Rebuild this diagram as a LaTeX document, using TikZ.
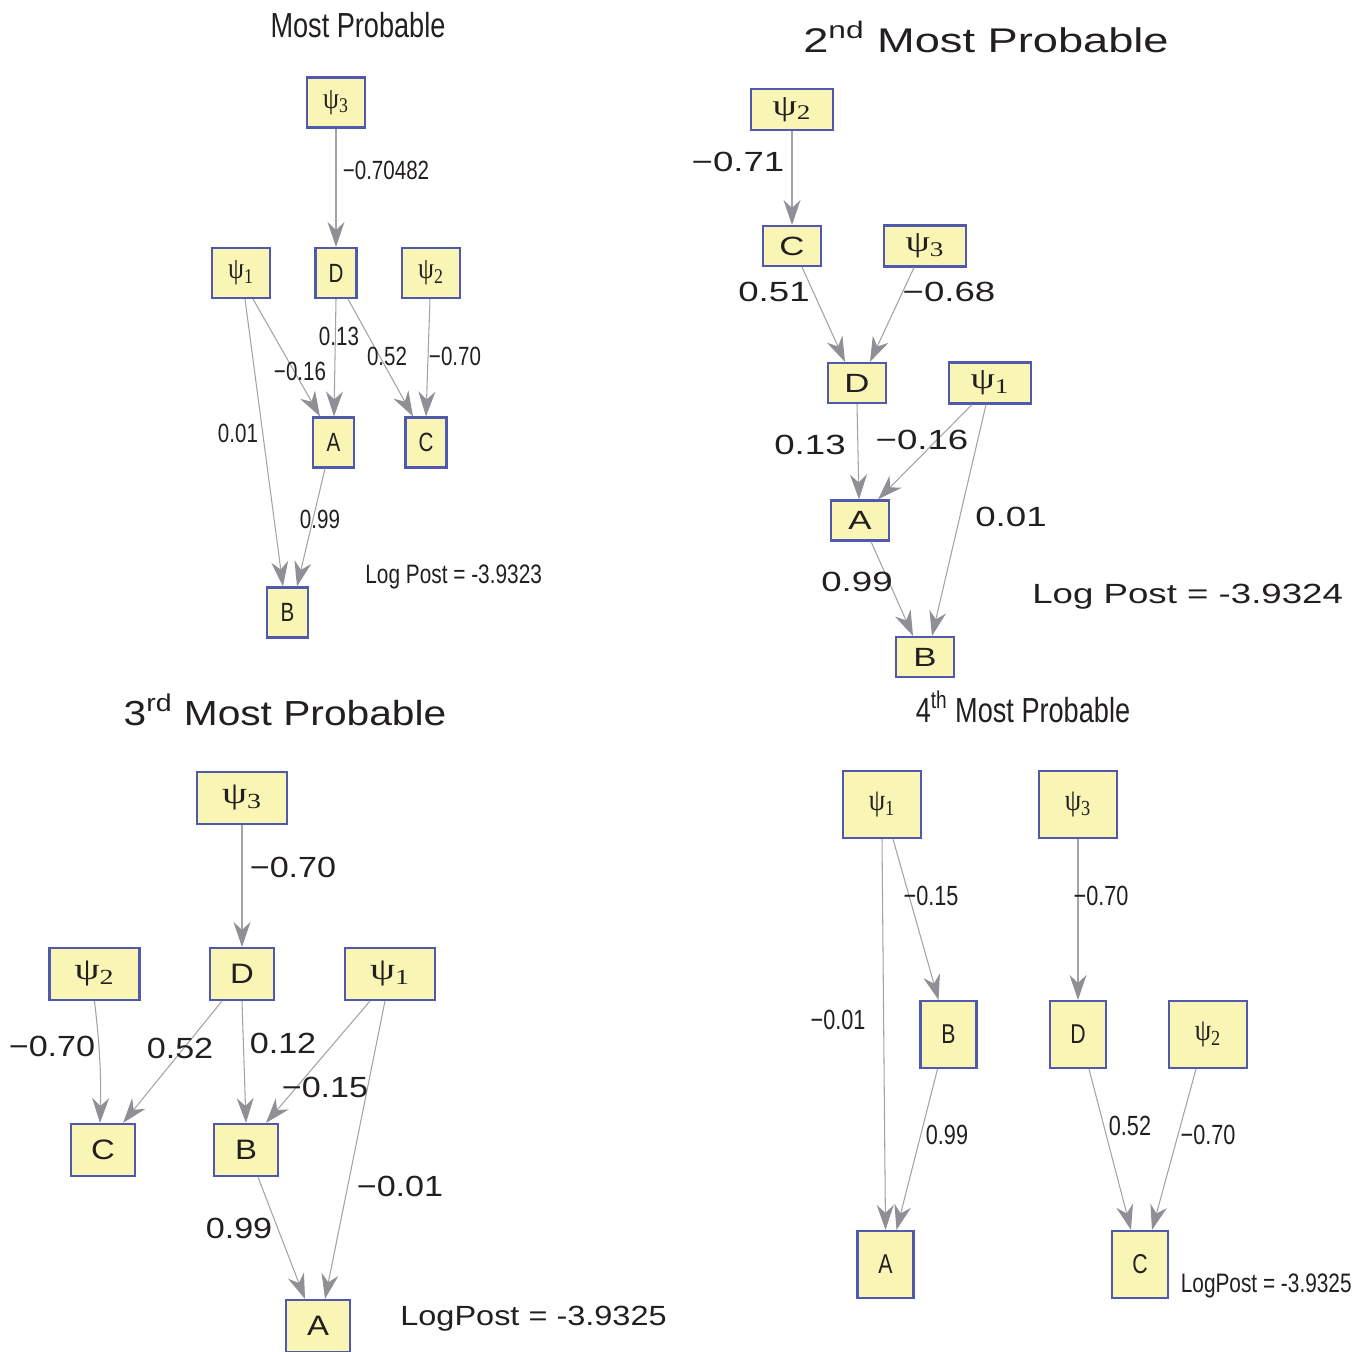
\documentclass[tikz,border=0pt]{standalone}
\usepackage{fontspec}
\setmainfont{Liberation Sans}
\usetikzlibrary{arrows.meta,calc}
\newfontfamily\narrowfont[FakeStretch=0.78]{Liberation Sans}
\newfontfamily\widefont[FakeStretch=1.32]{Liberation Sans}
\newfontfamily\wideishfont[FakeStretch=1.17]{Liberation Sans}
\newfontfamily\psinarrow[FakeStretch=0.85]{Liberation Serif}
\newfontfamily\psiwide[FakeStretch=1.3]{Liberation Serif}
\definecolor{boxfill}{HTML}{F8F5B5}
\definecolor{boxline}{HTML}{5059AE}
\definecolor{edgeline}{HTML}{A3A3A6}
\definecolor{edgehead}{HTML}{8F9095}
\definecolor{ink}{HTML}{231F20}
\newcommand{\fsz}[1]{\fontsize{#1}{#1}\selectfont}
\newcommand{\psiv}[1]{ψ\textsubscript{#1}}

\tikzset{
  box/.style 2 args={draw=boxline,fill=boxfill,line width=1.2pt,minimum width=#1,
        minimum height=#2,inner sep=0pt,text=ink},
  edge/.style={draw=edgeline,line width=0.6pt,
        -{Stealth[length=0.5cm,width=0.34cm,inset=0.16cm,color=edgehead]}},
  lbl/.style={text=ink,inner sep=0pt},
}

\begin{document}
\begin{tikzpicture}[x=0.02cm,y=-0.02cm]
\useasboundingbox (0,0) rectangle (1356,1352);

% most probable
\begin{scope}[psi/.style={box={1.16cm}{1.0cm},font=\psinarrow\fsz{17}},
              var/.style={box={0.82cm}{1.0cm},font=\narrowfont\fsz{15}},
              wt/.style={lbl,font=\narrowfont\fsz{15}}]
\node[lbl,font=\narrowfont\fsz{19.8},anchor=base] (p1title) at (358,37) {Most Probable};
\node[psi] (p1psi3) at (336,102.5) {\psiv{3}};
\node[var] (p1D) at (336,273) {D};
\node[psi] (p1psi1) at (241,273) {\psiv{1}};
\node[psi] (p1psi2) at (431,273) {\psiv{2}};
\node[var] (p1A) at (333.5,442.5) {A};
\node[var] (p1C) at (426,442.5) {C};
\node[var] (p1B) at (287.5,612.5) {B};
\draw[edge] (p1psi3.south) -- (p1D.north);
\draw[edge] ($(p1psi1.south)+(4,0)$) -- ($(p1B.north)+(-4.5,0)$);
\draw[edge] ($(p1psi1.south)+(12,0)$) -- ($(p1A.north)+(-13.5,0)$);
\draw[edge] ($(p1D.south)$) -- ($(p1A.north)+(0.5,0)$);
\draw[edge] ($(p1D.south)+(12,0)$) -- ($(p1C.north)+(-13,0)$);
\draw[edge] ($(p1psi2.south)+(-1,0)$) -- (p1C.north);
\draw[edge] ($(p1A.south)+(-8.5,0)$) -- ($(p1B.north)+(9.5,0)$);
\node[wt] (p1w1) at (386,170) {−0.70482};
\node[wt] (p1w2) at (339,336) {0.13};
\node[wt] (p1w3) at (300,371) {−0.16};
\node[wt] (p1w4) at (387,356) {0.52};
\node[wt] (p1w5) at (455,356) {−0.70};
\node[wt] (p1w6) at (238,433) {0.01};
\node[wt] (p1w7) at (320,519) {0.99};
\node[lbl,font=\narrowfont\fsz{15.2},anchor=base west] (p1post) at (365,583) {Log Post = -3.9323};
\end{scope}

% 2nd most probable
\begin{scope}[psi/.style={box={1.64cm}{0.82cm},font=\psiwide\fsz{17}},
              var/.style={box={1.16cm}{0.8cm},font=\widefont\fsz{15}},
              wt/.style={lbl,font=\widefont\fsz{15.8}}]
\node[lbl,font=\widefont\fsz{19.5},anchor=base] (p2title) at (986,52) {2\textsuperscript{nd} Most Probable};
\node[psi] (p2psi2) at (792,109.5) {\psiv{2}};
\node[var] (p2C) at (792,246) {C};
\node[psi] (p2psi3) at (925,246) {\psiv{3}};
\node[var] (p2D) at (857,383) {D};
\node[psi] (p2psi1) at (990,383) {\psiv{1}};
\node[var] (p2A) at (860,520.5) {A};
\node[var] (p2B) at (925,657) {B};
\draw[edge] (p2psi2.south) -- (p2C.north);
\draw[edge] ($(p2C.south)+(10,0)$) -- ($(p2D.north)+(-12,0)$);
\draw[edge] ($(p2psi3.south)+(-11,0)$) -- ($(p2D.north)+(13,0)$);
\draw[edge] (p2D.south) -- ($(p2A.north)+(-1,0)$);
\draw[edge] ($(p2psi1.south)+(-18,0)$) -- ($(p2A.north)+(18,0)$);
\draw[edge] ($(p2psi1.south)+(-4,0)$) -- ($(p2B.north)+(7,0)$);
\draw[edge] ($(p2A.south)+(11,0)$) -- ($(p2B.north)+(-12,0)$);
\node[wt] (p2w1) at (738,162) {−0.71};
\node[wt] (p2w2) at (774,292) {0.51};
\node[wt] (p2w3) at (949,292) {−0.68};
\node[wt] (p2w4) at (810,445) {0.13};
\node[wt] (p2w5) at (922,440) {−0.16};
\node[wt] (p2w6) at (1011,517) {0.01};
\node[wt] (p2w7) at (857,582) {0.99};
\node[lbl,font=\widefont\fsz{15.8},anchor=base west] (p2post) at (1032,603) {Log Post = -3.9324};
\end{scope}

% 3rd most probable
\begin{scope}[psi/.style={box={1.8cm}{1.04cm},font=\psiwide\fsz{17.5}},
              var/.style={box={1.28cm}{1.04cm},font=\wideishfont\fsz{16}},
              wt/.style={lbl,font=\wideishfont\fsz{16.6}}]
\node[lbl,font=\wideishfont\fsz{19.8},anchor=base] (p3title) at (285,725) {3\textsuperscript{rd} Most Probable};
\node[psi] (p3psi3) at (242,798) {\psiv{3}};
\node[psi] (p3psi2) at (94.5,974) {\psiv{2}};
\node[var] (p3D) at (242,974) {D};
\node[psi] (p3psi1) at (390,974) {\psiv{1}};
\node[var] (p3C) at (103,1150) {C};
\node[var] (p3B) at (246,1150) {B};
\node[var] (p3A) at (318,1326) {A};
\draw[edge] (p3psi3.south) -- (p3D.north);
\draw[edge] (p3psi2.south) to[bend left=4] ($(p3C.north)+(-3,0)$);
\draw[edge] ($(p3D.south)+(-20,0)$) -- ($(p3C.north)+(20,0)$);
\draw[edge] (p3D.south) -- (p3B.north);
\draw[edge] ($(p3psi1.south)+(-20,0)$) -- ($(p3B.north)+(20,0)$);
\draw[edge] ($(p3psi1.south)+(-5,0)$) -- ($(p3A.north)+(7,0)$);
\draw[edge] ($(p3B.south)+(12,0)$) -- ($(p3A.north)+(-13,0)$);
\node[wt] (p3w1) at (293,867) {−0.70};
\node[wt] (p3w2) at (52,1046) {−0.70};
\node[wt] (p3w3) at (180,1048) {0.52};
\node[wt] (p3w4) at (283,1043) {0.12};
\node[wt] (p3w5) at (325,1087) {−0.15};
\node[wt] (p3w6) at (400,1186) {−0.01};
\node[wt] (p3w7) at (239,1228) {0.99};
\node[lbl,font=\wideishfont\fsz{15.8},anchor=base west] (p3post) at (400,1325) {LogPost = -3.9325};
\end{scope}

% 4th most probable
\begin{scope}[psi/.style={box={1.56cm}{1.34cm},font=\psinarrow\fsz{17.5}},
              var/.style={box={1.12cm}{1.34cm},font=\narrowfont\fsz{15.5}},
              wt/.style={lbl,font=\narrowfont\fsz{15.8}}]
\node[lbl,font=\narrowfont\fsz{19.8},anchor=base] (p4title) at (1023,722) {4\textsuperscript{th} Most Probable};
\node[psi] (p4psi1) at (882,804.5) {\psiv{1}};
\node[psi] (p4psi3) at (1078,804.5) {\psiv{3}};
\node[var] (p4B) at (948.5,1034.5) {B};
\node[var] (p4D) at (1078,1034.5) {D};
\node[psi] (p4psi2) at (1208,1034.5) {\psiv{2}};
\node[var] (p4A) at (885.5,1264.5) {A};
\node[var] (p4C) at (1140,1264.5) {C};
\draw[edge] (p4psi1.south) -- (p4A.north);
\draw[edge] ($(p4psi1.south)+(11,0)$) -- ($(p4B.north)+(-10,0)$);
\draw[edge] (p4psi3.south) -- (p4D.north);
\draw[edge] ($(p4B.south)+(-11,0)$) -- ($(p4A.north)+(11,0)$);
\draw[edge] ($(p4D.south)+(11,0)$) -- ($(p4C.north)+(-9,0)$);
\draw[edge] ($(p4psi2.south)+(-12,0)$) -- ($(p4C.north)+(12,0)$);
\node[wt] (p4w1) at (931,896) {−0.15};
\node[wt] (p4w2) at (1101,896) {−0.70};
\node[wt] (p4w3) at (838,1020) {−0.01};
\node[wt] (p4w4) at (947,1135) {0.99};
\node[wt] (p4w5) at (1130,1126) {0.52};
\node[wt] (p4w6) at (1208,1135) {−0.70};
\node[lbl,font=\narrowfont\fsz{15.2},anchor=base east] (p4post) at (1352,1292) {LogPost = -3.9325};
\end{scope}
\end{tikzpicture}
\end{document}
